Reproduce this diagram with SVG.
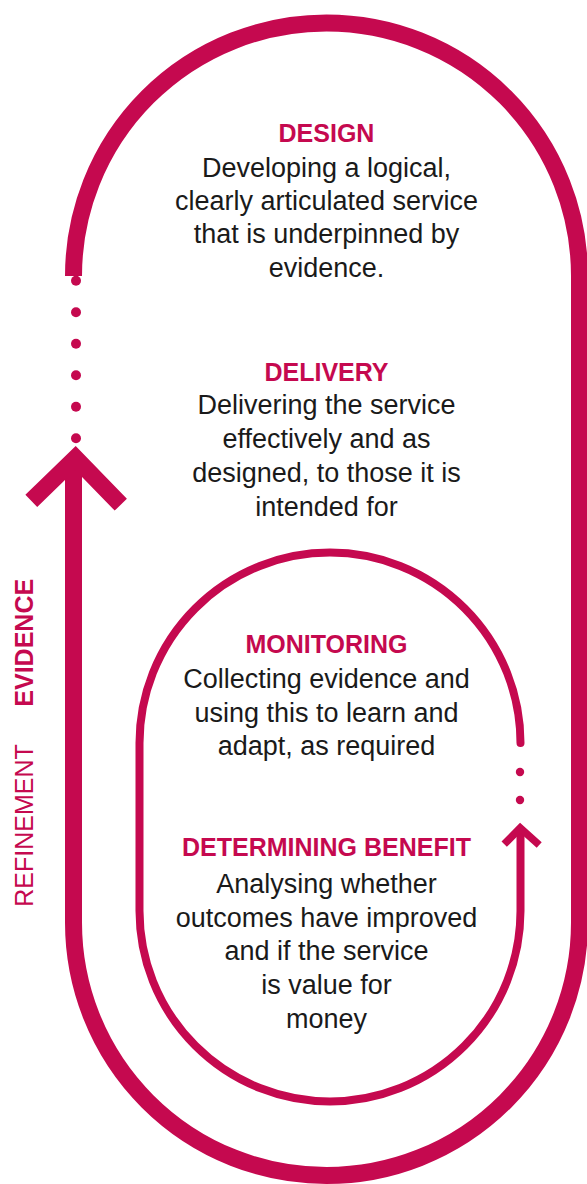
<svg xmlns="http://www.w3.org/2000/svg" width="587" height="1184" viewBox="0 0 587 1184">
  <style>
    .loop { fill: none; stroke: #C5094F; }
    .outer { stroke-width: 17; }
    .inner { stroke-width: 8; }
    .dot { fill: #C5094F; }
    .title { font-family: "Liberation Sans", Arial, sans-serif; font-weight: bold; font-size: 25px; fill: #C5094F; text-anchor: middle; }
    .body { font-family: "Liberation Sans", Arial, sans-serif; font-size: 27px; fill: #1a1a1a; text-anchor: middle; }
    .side { font-family: "Liberation Sans", Arial, sans-serif; font-size: 25px; fill: #C5094F; }
  </style>

  <rect width="587" height="1184" fill="#ffffff"/>

  <!-- loops, dotted gaps and arrowheads -->
  <g id="connectors">
    <!-- outer refinement loop -->
    <path class="loop outer" d="M 73.5 276 A 253 253 0 0 1 579.5 276 L 579.5 922.5 A 253 253 0 0 1 73.5 922.5 L 73.5 460"/>
    <polyline class="loop outer" stroke-linejoin="miter" points="31.3,500.8 75.5,458 120.8,504.7"/>
    <g class="dot">
      <circle cx="76" cy="280.7" r="5"/>
      <circle cx="76" cy="312.3" r="5"/>
      <circle cx="76" cy="343.7" r="5"/>
      <circle cx="76" cy="375.3" r="5"/>
      <circle cx="76" cy="406.7" r="5"/>
      <circle cx="76" cy="438.3" r="5"/>
    </g>

    <!-- inner monitoring loop -->
    <path class="loop inner" stroke-linecap="round" d="M 520.5 831 L 520.5 911 A 190.5 190.5 0 0 1 139.5 911 L 139.5 743 A 190.5 190.5 0 0 1 520.5 743"/>
    <polyline class="loop" stroke-width="7.5" stroke-linejoin="miter" points="504.2,844.2 520.2,828 539.2,845"/>
    <g class="dot">
      <circle cx="520" cy="772" r="4.2"/>
      <circle cx="520" cy="800" r="4.2"/>
    </g>
  </g>

  <g id="design">
    <text class="title" x="326.5" y="141.7">DESIGN</text>
    <text class="body" x="326.5" y="176.7">Developing a logical,</text>
    <text class="body" x="326.5" y="210">clearly articulated service</text>
    <text class="body" x="326.5" y="243.3">that is underpinned by</text>
    <text class="body" x="326.5" y="276.7">evidence.</text>
  </g>

  <g id="delivery">
    <text class="title" x="326.5" y="380.7">DELIVERY</text>
    <text class="body" x="326.5" y="414">Delivering the service</text>
    <text class="body" x="326.5" y="448">effectively and as</text>
    <text class="body" x="326.5" y="481.7">designed, to those it is</text>
    <text class="body" x="326.5" y="515.5">intended for</text>
  </g>

  <g id="monitoring">
    <text class="title" x="326.5" y="653.3">MONITORING</text>
    <text class="body" x="326.5" y="688.3">Collecting evidence and</text>
    <text class="body" x="326.5" y="721.7">using this to learn and</text>
    <text class="body" x="326.5" y="755">adapt, as required</text>
  </g>

  <g id="determining-benefit">
    <text class="title" x="326.5" y="856">DETERMINING BENEFIT</text>
    <text class="body" x="326.5" y="893">Analysing whether</text>
    <text class="body" x="326.5" y="926.7">outcomes have improved</text>
    <text class="body" x="326.5" y="960.3">and if the service</text>
    <text class="body" x="326.5" y="994">is value for</text>
    <text class="body" x="326.5" y="1027.7">money</text>
  </g>

  <g id="side-label">
    <text class="side" transform="translate(32.5,906.7) rotate(-90)">REFINEMENT</text>
    <text class="side" font-weight="bold" transform="translate(32.5,706.7) rotate(-90)">EVIDENCE</text>
  </g>
</svg>
